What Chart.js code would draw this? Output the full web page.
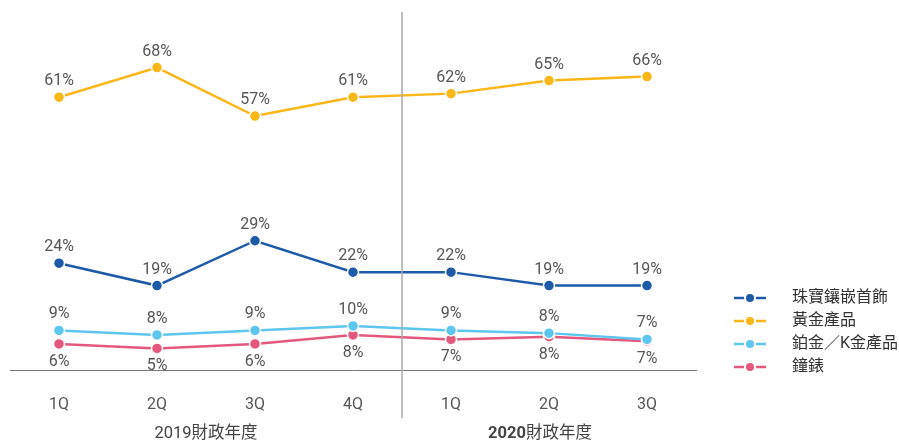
<!DOCTYPE html>
<html>
<head>
<meta charset="utf-8">
<script src="https://cdn.jsdelivr.net/npm/chart.js@4/dist/chart.umd.min.js"></script>
<style>
  body { margin: 0; background: #fff; }
  #wrap { width: 899px; height: 445px; position: relative; }
</style>
</head>
<body>
<div id="wrap"><canvas id="grafico"></canvas></div>
<script>
const quarters = ['1Q', '2Q', '3Q', '4Q', '1Q', '2Q', '3Q'];
const yearLabels = ['2019', '2020'];
const yearSuffix = '財政年度';
const seriesNames = ['珠寶鑲嵌首飾', '黃金產品', '鉑金／K金產品', '鐘錶'];
const jewelry = [24, 19, 29, 22, 22, 19, 19];
const gold = [61, 67.6, 56.8, 61, 61.8, 64.7, 65.6];
const platinum = [9, 8, 9, 10, 9, 8.4, 7];
const watches = [6, 5, 6, 8, 7, 7.6, 6.6];
const colors = ['#1d5aa8', '#fbb718', '#5cc6ef', '#e5587d'];
const labelBelow = [false, false, false, true];

const FONT = "Roboto, 'Noto Sans CJK TC', sans-serif";

const extras = {
    id: 'extras',
    afterDatasetsDraw(chart) {
        const ctx = chart.ctx;
        const xs = chart.scales.x;
        const area = chart.chartArea;

        // divisor entre os anos
        const xDiv = (xs.getPixelForValue(3) + xs.getPixelForValue(4)) / 2;
        ctx.save();
        ctx.strokeStyle = '#a8a8a8';
        ctx.lineWidth = 1.5;
        ctx.beginPath();
        ctx.moveTo(xDiv, area.top);
        ctx.lineTo(xDiv, 418);
        ctx.stroke();

        // rótulos dos valores
        ctx.font = '16px ' + FONT;
        ctx.fillStyle = '#555';
        ctx.textAlign = 'center';
        ctx.textBaseline = 'middle';
        chart.data.datasets.forEach((ds, i) => {
            const meta = chart.getDatasetMeta(i);
            meta.data.forEach((pt, j) => {
                const txt = Math.round(ds.data[j]) + '%';
                const y = labelBelow[i] ? pt.y + 18 : pt.y - 16;
                ctx.fillText(txt, pt.x, y);
            });
        });

        // anos fiscais
        const yYear = 434;
        ctx.textAlign = 'left';
        ctx.fillStyle = '#444';
        ctx.font = '16.5px ' + FONT;
        const c1 = (xs.getPixelForValue(0) + xs.getPixelForValue(3)) / 2;
        const t1 = yearLabels[0] + yearSuffix;
        ctx.fillText(t1, c1 - ctx.measureText(t1).width / 2, yYear);

        const c2 = (xs.getPixelForValue(4) + xs.getPixelForValue(6)) / 2;
        ctx.font = 'bold 16.5px ' + FONT;
        const wBold = ctx.measureText(yearLabels[1]).width;
        ctx.font = '16.5px ' + FONT;
        const wNorm = ctx.measureText(yearSuffix).width;
        let x2 = c2 - (wBold + wNorm) / 2 - 9;
        ctx.font = 'bold 16.5px ' + FONT;
        ctx.fillText(yearLabels[1], x2, yYear);
        ctx.font = '16.5px ' + FONT;
        ctx.fillText(yearSuffix, x2 + wBold, yYear);

        // legenda
        const lx = 734, ly0 = 298, lstep = 23;
        chart.data.datasets.forEach((ds, i) => {
            const y = ly0 + i * lstep;
            ctx.strokeStyle = ds.borderColor;
            ctx.lineWidth = 2.5;
            ctx.beginPath();
            ctx.moveTo(lx, y);
            ctx.lineTo(lx + 32, y);
            ctx.stroke();
            ctx.beginPath();
            ctx.arc(lx + 16, y, 5, 0, Math.PI * 2);
            ctx.fillStyle = ds.borderColor;
            ctx.fill();
            ctx.strokeStyle = '#fff';
            ctx.lineWidth = 2;
            ctx.stroke();
            ctx.fillStyle = '#333';
            ctx.font = '16px ' + FONT;
            ctx.textAlign = 'left';
            ctx.fillText(ds.label, 792, y);
        });
        ctx.restore();
    }
};

function makeDataset(label, data, color) {
    return {
        label: label,
        data: data,
        borderColor: color,
        backgroundColor: color,
        borderWidth: 2.5,
        pointRadius: 5.5,
        pointBorderColor: '#fff',
        pointBorderWidth: 1.5,
        pointBackgroundColor: color,
        tension: 0
    };
}

const ctx = document.getElementById('grafico').getContext('2d');
new Chart(ctx, {
    type: 'line',
    data: {
        labels: quarters,
        datasets: [
            makeDataset(seriesNames[0], jewelry, colors[0]),
            makeDataset(seriesNames[1], gold, colors[1]),
            makeDataset(seriesNames[2], platinum, colors[2]),
            makeDataset(seriesNames[3], watches, colors[3])
        ]
    },
    options: {
        responsive: true,
        maintainAspectRatio: false,
        animation: false,
        layout: { padding: { left: 10, right: 203, top: 12, bottom: 5 } },
        plugins: {
            legend: { display: false },
            tooltip: { enabled: false }
        },
        scales: {
            x: {
                offset: true,
                grid: { display: false, drawTicks: false },
                border: { display: true, color: '#777', width: 1 },
                ticks: {
                    color: '#555',
                    padding: 25,
                    font: { size: 16, family: FONT }
                }
            },
            y: {
                display: false,
                min: 0,
                max: 80
            }
        }
    },
    plugins: [extras]
});
</script>
</body>
</html>
